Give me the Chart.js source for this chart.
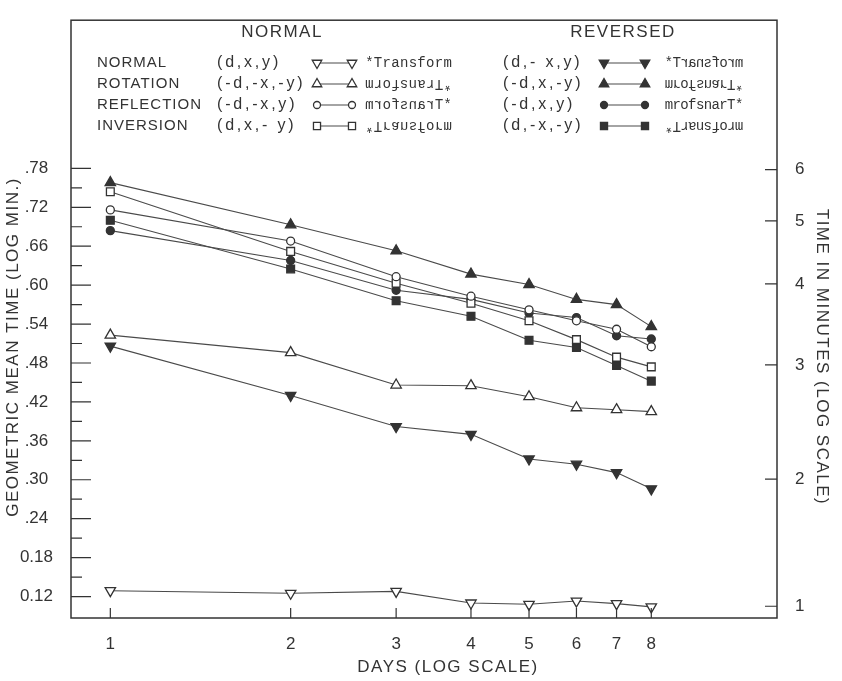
<!DOCTYPE html>
<html lang="en">
<head>
<meta charset="UTF-8">
<title>Transform learning curves</title>
<script src="https://cdn.jsdelivr.net/npm/chart.js"></script>
<style>
  html, body { margin: 0; padding: 0; background: #fff; }
  #wrap { width: 842px; height: 681px; }
</style>
</head>
<body>
<div id="wrap"><canvas id="curveChart" width="842" height="681"></canvas></div>
<script>
// days of practice (x, log scale)
const days = [1, 2, 3, 4, 5, 6, 7, 8];

// geometric mean time, log minutes -- NORMAL panel (open markers)
const normalNormal     = [0.129, 0.125, 0.128, 0.110, 0.108, 0.113, 0.109, 0.104];
const normalRotation   = [0.523, 0.496, 0.446, 0.445, 0.428, 0.411, 0.408, 0.405];
const normalReflection = [0.716, 0.668, 0.613, 0.583, 0.562, 0.545, 0.532, 0.505];
const normalInversion  = [0.744, 0.652, 0.603, 0.572, 0.545, 0.516, 0.489, 0.474];

// REVERSED panel (filled markers)
const reversedNormal     = [0.506, 0.430, 0.382, 0.370, 0.332, 0.324, 0.311, 0.286];
const reversedRotation   = [0.758, 0.693, 0.653, 0.617, 0.601, 0.578, 0.570, 0.536];
const reversedReflection = [0.684, 0.638, 0.592, 0.578, 0.557, 0.550, 0.522, 0.517];
const reversedInversion  = [0.700, 0.625, 0.576, 0.552, 0.515, 0.504, 0.476, 0.452];

// left axis ticks
const yTickValues = [0.12, 0.18, 0.24, 0.30, 0.36, 0.42, 0.48, 0.54, 0.60, 0.66, 0.72, 0.78];
const yTickLabels = ['0.12', '0.18', '.24', '.30', '.36', '.42', '.48', '.54', '.60', '.66', '.72', '.78'];

// right axis: minutes, placed at their log value (the "1" sits where the original put it)
const rightTickValues = [0.105, 0.301, 0.477, 0.602, 0.699, 0.778];
const rightTickLabels = ['1', '2', '3', '4', '5', '6'];

// legend text
const legendNames   = ['NORMAL', 'ROTATION', 'REFLECTION', 'INVERSION'];
const normalCodes   = ['(d,x,y)', '(-d,-x,-y)', '(-d,-x,y)', '(d,x,- y)'];
const reversedCodes = ['(d,- x,y)', '(-d,x,-y)', '(-d,x,y)', '(d,-x,-y)'];
// sign of [direction, letter x, letter y] for the "*Transform" sample
const normalFlips   = [[1, 1, 1], [-1, -1, -1], [-1, -1, 1], [1, 1, -1]];
const reversedFlips = [[1, -1, 1], [-1, 1, -1], [-1, 1, 1], [1, -1, -1]];
const sampleWord = '*Transform';

const ink = '#333';
const lineInk = '#4a4a4a';
const sans = "'Liberation Sans', Arial, sans-serif";

const markers = [
  { pointStyle: 'triangle', rotation: 180, radius: 6 },
  { pointStyle: 'triangle', rotation: 0, radius: 6 },
  { pointStyle: 'circle', rotation: 0, radius: 4 },
  { pointStyle: 'rect', rotation: 0, radius: 5.5 }
];

function series(values, m, filled) {
  return {
    data: days.map((d, i) => ({ x: d, y: values[i] })),
    borderColor: lineInk,
    borderWidth: 1.1,
    pointStyle: m.pointStyle,
    rotation: m.rotation,
    pointRadius: m.radius,
    pointBorderWidth: 1.3,
    pointBorderColor: ink,
    pointBackgroundColor: filled ? ink : '#fff',
    tension: 0
  };
}

const datasets = [
  series(normalNormal, markers[0], false),
  series(normalRotation, markers[1], false),
  series(normalReflection, markers[2], false),
  series(normalInversion, markers[3], false),
  series(reversedNormal, markers[0], true),
  series(reversedRotation, markers[1], true),
  series(reversedReflection, markers[2], true),
  series(reversedInversion, markers[3], true)
];

const yMin = 0.0869, yMax = 1.0084;

function drawMarker(ctx, m, x, y, filled) {
  ctx.fillStyle = filled ? ink : '#fff';
  ctx.strokeStyle = ink;
  ctx.lineWidth = 1.3;
  Chart.helpers.drawPoint(ctx, { pointStyle: m.pointStyle, rotation: m.rotation, radius: m.radius - 0.5, borderWidth: 1.3 }, x, y);
}

function drawSample(ctx, flips, startX, cellW, y) {
  const n = sampleWord.length;
  ctx.font = "14px 'Liberation Mono', 'DejaVu Sans Mono', monospace";
  ctx.textAlign = 'center';
  ctx.textBaseline = 'middle';
  for (let i = 0; i < n; i++) {
    const slot = flips[0] > 0 ? i : n - 1 - i;
    ctx.save();
    ctx.translate(startX + (slot + 0.5) * cellW, y);
    ctx.scale(flips[1], flips[2]);
    ctx.fillText(sampleWord[i], 0, 0);
    ctx.restore();
  }
}

const framePlugin = {
  id: 'frameAndTicks',
  afterDraw(chart) {
    const { ctx, chartArea: a, scales } = chart;
    ctx.save();
    ctx.strokeStyle = ink;
    ctx.lineWidth = 1.5;
    ctx.strokeRect(a.left, a.top, a.right - a.left, a.bottom - a.top);

    ctx.lineWidth = 1.2;
    ctx.beginPath();
    scales.y.ticks.forEach(t => {
      const py = scales.y.getPixelForValue(t.value);
      ctx.moveTo(a.left, py); ctx.lineTo(a.left + 20, py);
    });
    for (let i = 0; i < yTickValues.length - 1; i++) {
      const py = scales.y.getPixelForValue((yTickValues[i] + yTickValues[i + 1]) / 2);
      ctx.moveTo(a.left, py); ctx.lineTo(a.left + 11, py);
    }
    scales.y2.ticks.forEach(t => {
      const py = scales.y2.getPixelForValue(t.value);
      ctx.moveTo(a.right, py); ctx.lineTo(a.right - 12, py);
    });
    scales.x.ticks.forEach(t => {
      const px = scales.x.getPixelForValue(t.value);
      ctx.moveTo(px, a.bottom); ctx.lineTo(px, a.bottom - 10);
    });
    ctx.stroke();

    // axis titles
    ctx.fillStyle = ink;
    ctx.font = '17px ' + sans;
    ctx.letterSpacing = '1.5px';
    ctx.textAlign = 'center';
    ctx.textBaseline = 'middle';
    ctx.fillText('DAYS (LOG SCALE)', 448, 667);
    ctx.save();
    ctx.translate(13, 347);
    ctx.rotate(-Math.PI / 2);
    ctx.fillText('GEOMETRIC MEAN TIME (LOG MIN.)', 0, 0);
    ctx.restore();
    ctx.save();
    ctx.translate(822, 357);
    ctx.rotate(Math.PI / 2);
    ctx.fillText('TIME IN MINUTES (LOG SCALE)', 0, 0);
    ctx.restore();

    // legend
    ctx.fillText('NORMAL', 282, 32);
    ctx.fillText('REVERSED', 623, 32);
    const rowY = [63, 84, 105, 126];
    legendNames.forEach((name, r) => {
      const y = rowY[r];
      ctx.fillStyle = ink;
      ctx.textAlign = 'left';
      ctx.textBaseline = 'middle';
      ctx.font = '15px ' + sans;
      ctx.letterSpacing = '1px';
      ctx.fillText(name, 97, y);
      ctx.font = '16px ' + sans;
      ctx.letterSpacing = '2.8px';
      ctx.fillText(normalCodes[r], 217, y);
      ctx.fillText(reversedCodes[r], 503, y);
      ctx.letterSpacing = '0px';

      ctx.strokeStyle = lineInk;
      ctx.lineWidth = 1.1;
      ctx.beginPath();
      ctx.moveTo(317, y); ctx.lineTo(352, y);
      ctx.moveTo(604, y); ctx.lineTo(645, y);
      ctx.stroke();
      drawMarker(ctx, markers[r], 317, y, false);
      drawMarker(ctx, markers[r], 352, y, false);
      drawMarker(ctx, markers[r], 604, y, true);
      drawMarker(ctx, markers[r], 645, y, true);

      ctx.fillStyle = ink;
      drawSample(ctx, normalFlips[r], 365, 8.7, y);
      drawSample(ctx, reversedFlips[r], 665, 7.8, y);
    });
    ctx.restore();
  }
};

const tickFont = { family: sans, size: 17 };

new Chart(document.getElementById('curveChart'), {
  type: 'line',
  data: { datasets },
  options: {
    responsive: false,
    animation: false,
    devicePixelRatio: 1,
    layout: { padding: { top: 6, left: 0, right: 0, bottom: 0 } },
    plugins: { legend: { display: false }, tooltip: { enabled: false } },
    scales: {
      x: {
        type: 'logarithmic',
        min: 0.8597,
        max: 12.97,
        grid: { display: false },
        border: { display: false },
        ticks: { font: tickFont, color: ink, padding: 8, autoSkip: false, maxRotation: 0, callback: v => String(v) },
        afterBuildTicks: s => { s.ticks = days.map(v => ({ value: v })); },
        afterFit: s => { s.height = 63; }
      },
      y: {
        type: 'linear',
        position: 'left',
        min: yMin,
        max: yMax,
        grid: { display: false },
        border: { display: false },
        ticks: { font: tickFont, color: ink, padding: 10, crossAlign: 'center', callback: (v, i) => yTickLabels[i] },
        afterBuildTicks: s => { s.ticks = yTickValues.map(v => ({ value: v })); },
        afterFit: s => { s.width = 71; }
      },
      y2: {
        type: 'linear',
        position: 'right',
        min: yMin,
        max: yMax,
        grid: { display: false },
        border: { display: false },
        ticks: { font: tickFont, color: ink, padding: 10, callback: (v, i) => rightTickLabels[i] },
        afterBuildTicks: s => { s.ticks = rightTickValues.map(v => ({ value: v })); },
        afterFit: s => { s.width = 65; }
      }
    }
  },
  plugins: [framePlugin]
});
</script>
</body>
</html>
